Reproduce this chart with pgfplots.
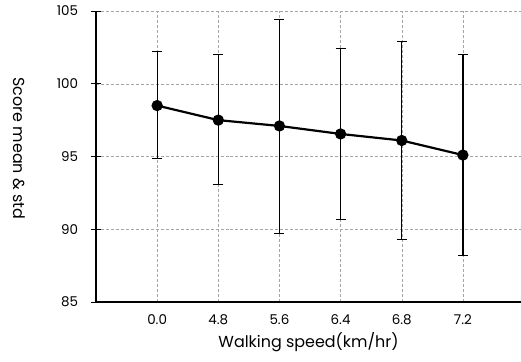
\documentclass[border=0pt]{standalone}
\usepackage{pgfplots}
\pgfplotsset{compat=1.18}
\usepackage{fontspec}
\setmainfont{Poppins}
\begin{document}
\begin{tikzpicture}
\begin{axis}[
  scale only axis,
  width=425bp, height=291bp,
  xmin=-1, xmax=5.95,
  ymin=85, ymax=105,
  axis x line*=bottom, axis y line*=left,
  axis line style={-, line width=1.1pt},
  xtick={0,1,2,3,4,5},
  xticklabels={0.0,4.8,5.6,6.4,6.8,7.2},
  ytick={85,90,95,100,105},
  grid=major,
  major grid style={densely dashed, gray!70, line width=0.5pt},
  tick style={black, line width=0.6pt},
  major tick length=9bp,
  tick align=center,
  xtick style={draw=none},
  ticklabel style={font=\fontsize{13.5}{16}\selectfont},
  /pgf/number format/assume math mode=true,
  yticklabel style={xshift=-10bp},
  xticklabel style={yshift=-5bp},
  xlabel={Walking speed(km/hr)},
  label style={font=\fontsize{16}{18}\selectfont},
  xlabel style={yshift=0bp},
  clip=false,
]
\addplot[black, line width=2.2pt, mark=*, mark size=4.5bp,
  error bars/.cd, y dir=both, y explicit,
  error bar style={line width=1.3pt, solid},
  error mark options={line width=0.9pt, mark size=5bp, rotate=90}]
coordinates {
  (0,98.5) += (0,3.75) -= (0,3.6)
  (1,97.5) += (0,4.5) -= (0,4.4)
  (2,97.1) += (0,7.3) -= (0,7.4)
  (3,96.55) += (0,5.85) -= (0,5.85)
  (4,96.1) += (0,6.8) -= (0,6.8)
  (5,95.1) += (0,6.9) -= (0,6.9)
};
\end{axis}
\node[rotate=-90, font=\fontsize{16}{18}\selectfont, inner sep=0pt]
  at ([xshift=-76.5bp, yshift=8bp]current axis.west) {Score mean \& std};
\pgfresetboundingbox
\path ([xshift=-96bp, yshift=-60bp]current axis.south west) rectangle ([yshift=11bp]current axis.north east);
\end{tikzpicture}
\end{document}
